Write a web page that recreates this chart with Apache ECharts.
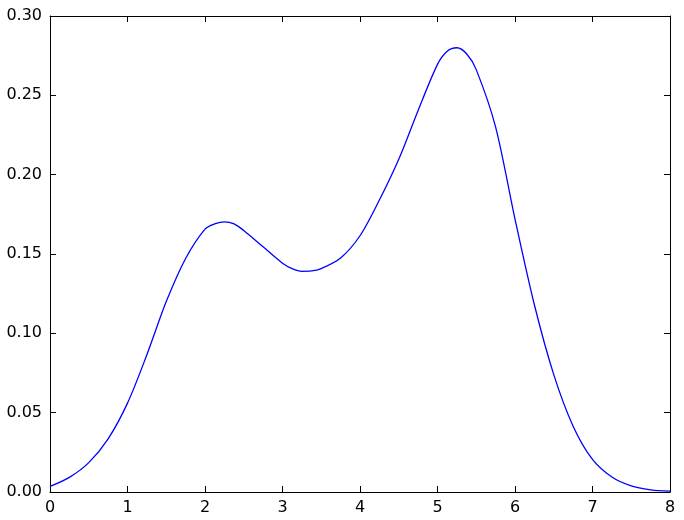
<!DOCTYPE html>
<html>
<head>
<meta charset="utf-8">
<script src="https://cdn.jsdelivr.net/npm/echarts@6/dist/echarts.min.js"></script>
<style>
  html, body { margin: 0; padding: 0; background: #fff; }
  #chart { width: 684px; height: 520px; }
</style>
</head>
<body>
<div id="chart"></div>
<script>
// x positions and density values
const xValues = [0, 0.25, 0.5, 0.75, 1, 1.25, 1.5, 1.75, 2, 2.125, 2.25, 2.375, 2.5, 2.75, 3, 3.125, 3.25,
  3.375, 3.5, 3.75, 4, 4.25, 4.5, 4.75, 5, 5.125, 5.25, 5.375, 5.5, 5.75, 6, 6.25, 6.5, 6.75, 7, 7.25,
  7.5, 7.75, 8]
const density = [0.0035, 0.0092, 0.0185, 0.0335, 0.056, 0.0865, 0.1200, 0.1472, 0.1657, 0.1690, 0.1703,
  0.1690, 0.1648, 0.1545, 0.1442, 0.1408, 0.1391, 0.1393, 0.1408, 0.1475, 0.1615, 0.1840, 0.2097, 0.2405,
  0.2695, 0.2778, 0.2800, 0.2762, 0.2662, 0.2300, 0.1720, 0.118, 0.074, 0.0415, 0.0205, 0.0094, 0.0038,
  0.0014, 0.0005]

const chart = echarts.init(document.getElementById('chart'))

const font = { color: '#000', fontFamily: 'DejaVu Sans', fontSize: 16 }
const axisLine = { show: true, onZero: false, lineStyle: { color: '#000', width: 1 } }
const tick = { show: true, inside: true, length: 6, lineStyle: { color: '#000' } }

chart.setOption({
  animation: false,
  grid: { left: 50, top: 16, right: 14, bottom: 28 },
  xAxis: [
    {
      type: 'value', position: 'bottom', min: 0, max: 8, interval: 1,
      axisLine, axisTick: tick, splitLine: { show: false },
      axisLabel: { ...font, margin: 8 }
    },
    {
      type: 'value', position: 'top', min: 0, max: 8, interval: 1,
      axisLine, axisTick: tick, splitLine: { show: false },
      axisLabel: { show: false }
    }
  ],
  yAxis: [
    {
      type: 'value', position: 'left', min: 0, max: 0.3, interval: 0.05,
      axisLine, axisTick: tick, splitLine: { show: false },
      axisLabel: { ...font, margin: 8, formatter: v => v.toFixed(2) }
    },
    {
      type: 'value', position: 'right', min: 0, max: 0.3, interval: 0.05,
      axisLine, axisTick: tick, splitLine: { show: false },
      axisLabel: { show: false }
    }
  ],
  series: [
    {
      type: 'line',
      data: xValues.map((x, i) => [x, density[i]]),
      smooth: 0.3,
      showSymbol: false,
      lineStyle: { color: '#0000ff', width: 1.3 }
    }
  ]
})
</script>
</body>
</html>
